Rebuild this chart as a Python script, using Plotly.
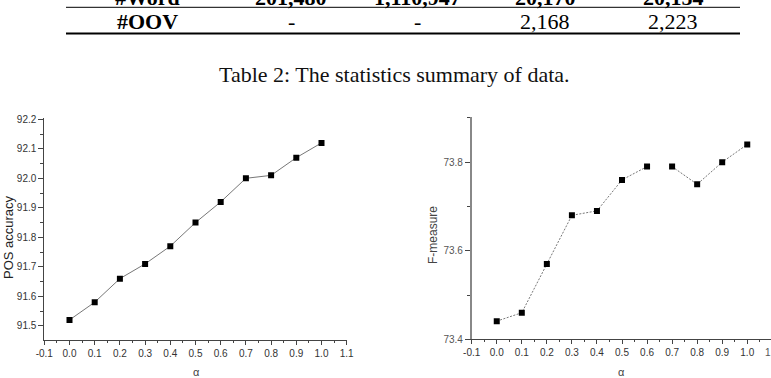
import plotly.graph_objects as go

# ---------------- data ----------------
alpha = [0.0, 0.1, 0.2, 0.3, 0.4, 0.5, 0.6, 0.7, 0.8, 0.9, 1.0]
pos_accuracy = [91.52, 91.58, 91.66, 91.71, 91.77, 91.85, 91.92, 92.00, 92.01, 92.07, 92.12]
f_measure = [73.441, 73.46, 73.57, 73.68, 73.69, 73.76, 73.79, 73.79, 73.75, 73.80, 73.84]
f_segment_split = 7  # line is broken between alpha=0.6 and alpha=0.7

x_ticks = [-0.1, 0.0, 0.1, 0.2, 0.3, 0.4, 0.5, 0.6, 0.7, 0.8, 0.9, 1.0, 1.1]
right_x_ticks = x_ticks[:-1]
left_y_ticks = [91.5, 91.6, 91.7, 91.8, 91.9, 92.0, 92.1, 92.2]
right_y_ticks = [73.4, 73.6, 73.8]

table_cut_row = ["#Word", "201,480", "1,110,947", "20,170", "20,154"]
table_row = ["#OOV", "-", "-", "2,168", "2,223"]
caption = "Table 2: The statistics summary of data."

# ---------------- layout helpers ----------------
W, H = 771, 378
def X(px):
    return px / W
def Y(py):
    return 1 - py / H

col_centers = [147, 291, 418, 545, 673]
serif = "Liberation Serif, Times New Roman, serif"
sans = "Liberation Sans, Arial, sans-serif"

fig = go.Figure()

# left chart
fig.add_trace(go.Scatter(
    x=alpha, y=pos_accuracy, mode="lines+markers",
    line=dict(color="#777777", width=1),
    marker=dict(symbol="square", size=6, color="black"),
    xaxis="x", yaxis="y", showlegend=False))

# right chart (line broken into two segments)
fig.add_trace(go.Scatter(
    x=alpha[:f_segment_split], y=f_measure[:f_segment_split], mode="lines",
    line=dict(color="#777777", width=1, dash="2px,1.5px"),
    xaxis="x2", yaxis="y2", showlegend=False))
fig.add_trace(go.Scatter(
    x=alpha[f_segment_split:], y=f_measure[f_segment_split:], mode="lines",
    line=dict(color="#777777", width=1, dash="2px,1.5px"),
    xaxis="x2", yaxis="y2", showlegend=False))
fig.add_trace(go.Scatter(
    x=alpha, y=f_measure, mode="markers",
    marker=dict(symbol="square", size=6, color="black"),
    xaxis="x2", yaxis="y2", showlegend=False))

tickfont = dict(family=sans, size=10, color="#333333")

def xaxis_style(domain, rng, anchor, ticks):
    return dict(
        domain=domain, range=rng, anchor=anchor, showgrid=False, zeroline=False,
        showline=True, linecolor="#444444", linewidth=1,
        tickvals=ticks, ticktext=[f"{v:.1f}" for v in ticks],
        ticks="outside", ticklen=4, tickwidth=1, tickcolor="#444444",
        minor=dict(dtick=0.05, tick0=-0.1, ticks="outside", ticklen=2, tickcolor="#444444"),
        tickfont=tickfont, fixedrange=True)

fig.update_layout(
    width=W, height=H,
    margin=dict(l=0, r=0, t=0, b=0, autoexpand=False),
    paper_bgcolor="white", plot_bgcolor="white",
    xaxis=xaxis_style([X(44.3), X(346.7)], [-0.1, 1.1], "y", x_ticks),
    yaxis=dict(
        domain=[Y(340), Y(118)], range=[91.452, 92.2044], anchor="x",
        showgrid=False, zeroline=False, showline=True, linecolor="#444444", linewidth=1,
        tickvals=left_y_ticks, ticktext=[f"{v:.1f}" for v in left_y_ticks],
        ticks="outside", ticklen=5, tickcolor="#444444",
        minor=dict(dtick=0.05, tick0=91.5, ticks="outside", ticklen=3, tickcolor="#444444"),
        tickfont=tickfont, fixedrange=True),
    xaxis2=xaxis_style([X(471.7), 1.0], [-0.1, 1.0948], "y2", right_x_ticks),
    yaxis2=dict(
        domain=[Y(339.3), Y(117)], range=[73.4, 73.902], anchor="x2",
        showgrid=False, zeroline=False, showline=True, linecolor="#888888", linewidth=1.5,
        tickvals=right_y_ticks, ticktext=[f"{v:.1f}" for v in right_y_ticks],
        ticks="outside", ticklen=5, tickcolor="#444444",
        minor=dict(dtick=0.1, tick0=73.4, ticks="outside", ticklen=3, tickcolor="#444444"),
        tickfont=dict(family=sans, size=10, color="#555555"), fixedrange=True),
)

def ann(px, py, text, font, **kw):
    d = dict(x=X(px), y=Y(py), xref="paper", yref="paper", text=text, showarrow=False,
             xanchor="center", yanchor="middle", font=font)
    d.update(kw)
    return d

annotations = []
# axis titles
annotations.append(ann(196, 372, "α", dict(family=sans, size=11, color="#444444")))
annotations.append(ann(621, 372, "α", dict(family=sans, size=11, color="#444444")))
annotations.append(ann(8, 237, "POS accuracy", dict(family=sans, size=13, color="#222222"), textangle=-90))
annotations.append(ann(433, 235, "F-measure", dict(family=sans, size=12, color="#444444"), textangle=-90))
# clipped 1.1 label of right chart (falls off the page edge)
annotations.append(ann(772.4, 352, "1.1", dict(family=sans, size=10, color="#555555")))

# table fragment
for i, t in enumerate(table_cut_row):
    annotations.append(ann(col_centers[i], 12, f"<b>{t}</b>",
                           dict(family=serif, size=22, color="black"), yanchor="bottom"))
for i, t in enumerate(table_row):
    txt = f"<b>{t}</b>" if i == 0 else t
    annotations.append(ann(col_centers[i], 21, txt, dict(family=serif, size=22, color="black")))
annotations.append(ann(395, 74, caption, dict(family=serif, size=22, color="#111111")))
fig.update_layout(annotations=annotations)

fig.update_layout(shapes=[
    dict(type="line", xref="paper", yref="paper", x0=X(66), x1=X(740), y0=Y(7.3), y1=Y(7.3),
         line=dict(color="black", width=1)),
    dict(type="line", xref="paper", yref="paper", x0=X(66), x1=X(740), y0=Y(33.5), y1=Y(33.5),
         line=dict(color="black", width=2.2)),
])

fig.write_html("out.html")
